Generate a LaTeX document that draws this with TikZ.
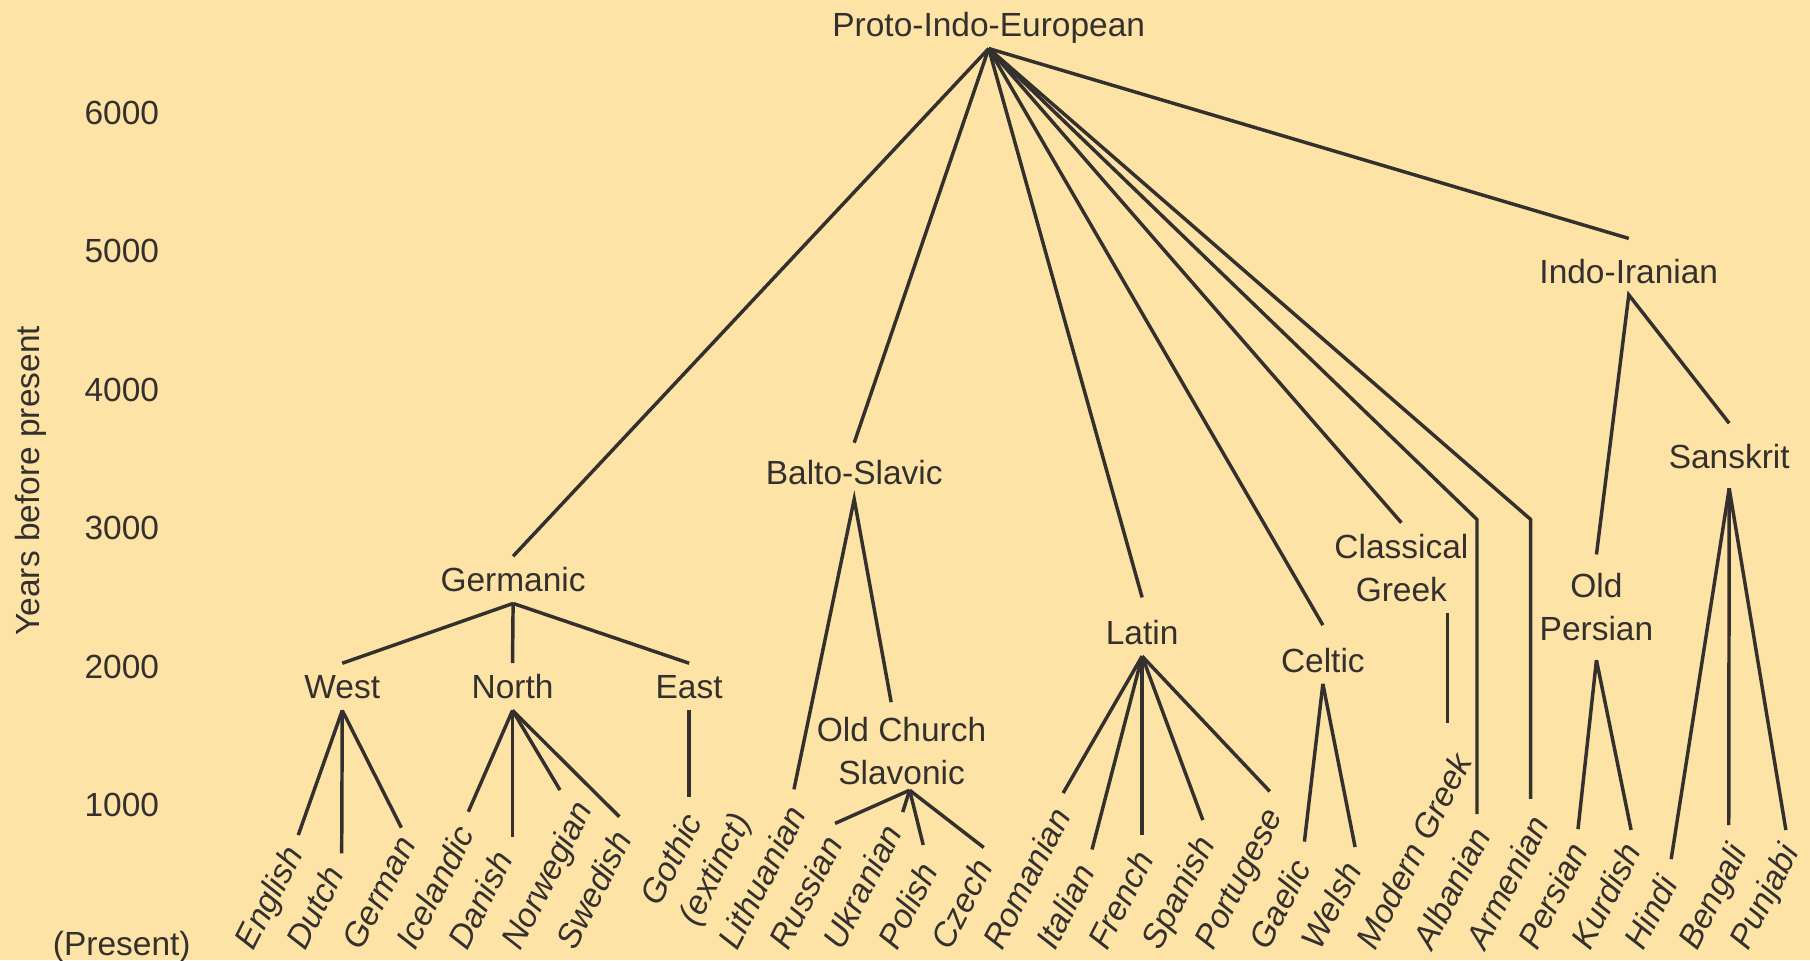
\documentclass[tikz,border=0pt]{standalone}
\usepackage{fontspec}
\setmainfont{Liberation Sans}
\usetikzlibrary{positioning}
\definecolor{parchment}{RGB}{253,227,166}
\definecolor{ink}{RGB}{52,48,45}

\begin{document}
\begin{tikzpicture}[x=1pt, y=-1pt, line width=3pt, ink,
    lang/.style={font=\fontsize{29}{37}\selectfont, text=ink, inner sep=0pt, outer sep=10pt, text height=20.9pt, text depth=0pt},
    langtwo/.style={font=\fontsize{29}{37}\selectfont, text=ink, inner sep=0pt, outer sep=10pt, align=center},
    leaf/.style={font=\fontsize{29}{37}\selectfont\itshape, text=ink, inner sep=0pt, outer sep=0pt, rotate=63, anchor=base west},
    year/.style={font=\fontsize{29}{37}\selectfont, text=ink, inner sep=0pt, outer sep=0pt, text height=20.9pt, text depth=0pt}]
            \fill [parchment] (0,0) rectangle (1568,832);
            \useasboundingbox (0,0) rectangle (1568,832);

            % time axis
            \node [year] (y6000) at (105.5,97) {6000};
            \node [year, below=99.1pt of y6000] (y5000) {5000};
            \node [year, below=99.1pt of y5000] (y4000) {4000};
            \node [year, below=99.1pt of y4000] (y3000) {3000};
            \node [year, below=99.1pt of y3000] (y2000) {2000};
            \node [year, below=99.1pt of y2000] (y1000) {1000};
            \node [year, below=99.1pt of y1000] (present) {(Present)};
            \node [year, rotate=90] (axislabel) at (24,416.5) {Years before present};

            % family nodes
            \node [lang] (pie) at (856.5,21.6) {Proto-Indo-European};
            \node [lang] (germanic) at (444.5,502.3) {Germanic};
            \node [lang] (westgerm) at (296.5,595) {West};
            \node [lang] (northgerm) at (444,595) {North};
            \node [lang] (eastgerm) at (597,595) {East};
            \node [lang] (baltoslavic) at (740,409) {Balto-Slavic};
            \node [langtwo] (ocs) at (781,650.4) {Old Church\\Slavonic};
            \node [lang] (latin) at (989.4,548) {Latin};
            \node [lang] (celtic) at (1146,572) {Celtic};
            \node [langtwo] (clgreek) at (1214,492) {Classical\\Greek};
            \node [lang] (indoiranian) at (1411,235) {Indo-Iranian};
            \node [langtwo] (oldpersian) at (1383,526) {Old\\Persian};
            \node [lang] (sanskrit) at (1498,395.6) {Sanskrit};

            % present-day languages
            \node [leaf] (english) at (220,824.5) {English};
            \node [leaf] (dutch) at (264.7,824.5) {Dutch};
            \node [leaf] (german) at (313.5,824.5) {German};
            \node [leaf] (icelandic) at (360,824.5) {Icelandic};
            \node [leaf] (danish) at (404.6,824.5) {Danish};
            \node [leaf] (norwegian) at (451,824.5) {Norwegian};
            \node [leaf] (swedish) at (498.6,824.5) {Swedish};
            \node [leaf, anchor=center, align=left] (gothic) at (604.6,745.3) {Gothic\\(extinct)};
            \node [leaf] (lithuanian) at (638.6,824.5) {Lithuanian};
            \node [leaf] (russian) at (683.4,824.5) {Russian};
            \node [leaf] (ukranian) at (729.6,824.5) {Ukranian};
            \node [leaf] (polish) at (777.3,824.5) {Polish};
            \node [leaf] (czech) at (823.5,824.5) {Czech};
            \node [leaf] (romanian) at (868.2,824.5) {Romanian};
            \node [leaf] (italian) at (914.4,824.5) {Italian};
            \node [leaf] (french) at (959.2,824.5) {French};
            \node [leaf] (spanish) at (1005.4,824.5) {Spanish};
            \node [leaf] (portugese) at (1051.6,824.5) {Portugese};
            \node [leaf] (gaelic) at (1099.2,824.5) {Gaelic};
            \node [leaf] (welsh) at (1144,824.5) {Welsh};
            \node [leaf] (modgreek) at (1191.6,824.5) {Modern Greek};
            \node [leaf] (albanian) at (1241,824.5) {Albanian};
            \node [leaf] (armenian) at (1286.5,824.5) {Armenian};
            \node [leaf] (persian) at (1331.7,824.5) {Persian};
            \node [leaf] (kurdish) at (1378,824.5) {Kurdish};
            \node [leaf] (hindi) at (1424,824.5) {Hindi};
            \node [leaf] (bengali) at (1470.3,824.5) {Bengali};
            \node [leaf] (punjabi) at (1515,824.5) {Punjabi};

            % where the branches stop above the labels
            \coordinate (english-top) at (258.4,723.4);
            \coordinate (dutch-top) at (296,739.3);
            \coordinate (german-top) at (347.7,717);
            \coordinate (icelandic-top) at (405.7,703.2);
            \coordinate (danish-top) at (444,724.8);
            \coordinate (norwegian-top) at (485.1,684.4);
            \coordinate (swedish-top) at (536.5,707.5);
            \coordinate (gothic-top) at (597,690.2);
            \coordinate (lithuanian-top) at (687.8,683.8);
            \coordinate (russian-top) at (723.4,713.3);
            \coordinate (ukranian-top) at (782,703.5);
            \coordinate (polish-top) at (799.8,732);
            \coordinate (czech-top) at (852.2,734.2);
            \coordinate (romanian-top) at (921,687);
            \coordinate (italian-top) at (946,735.9);
            \coordinate (french-top) at (989.4,723.4);
            \coordinate (spanish-top) at (1042,710.4);
            \coordinate (portugese-top) at (1100,685.6);
            \coordinate (gaelic-top) at (1130,729.1);
            \coordinate (welsh-top) at (1173.9,733.8);
            \coordinate (modgreek-top) at (1254,626.6);
            \coordinate (albanian-bend) at (1279.5,450);
            \coordinate (albanian-top) at (1279.5,705.3);
            \coordinate (armenian-bend) at (1326,450);
            \coordinate (armenian-top) at (1326,692);
            \coordinate (persian-top) at (1367,718.3);
            \coordinate (kurdish-top) at (1413,719);
            \coordinate (hindi-top) at (1447.7,744.3);
            \coordinate (bengali-top) at (1497.6,714.7);
            \coordinate (punjabi-top) at (1547.1,719);

            % branches from the root
            \draw (pie.south) -- (germanic.north);
            \draw (pie.south) -- ([yshift=5pt]baltoslavic.north);
            \draw (pie.south) -- ([yshift=10pt]latin.north);
            \draw (pie.south) -- ([yshift=10pt]celtic.north);
            \draw (pie.south) -- (clgreek.north);
            \draw (pie.south) -- (albanian-bend) -- (albanian-top);
            \draw (pie.south) -- (armenian-bend) -- (armenian-top);
            \draw (pie.south) -- ([yshift=8pt]indoiranian.north);

            % Germanic
            \draw (germanic.south) -- (westgerm.north);
            \draw (germanic.south) -- (northgerm.north);
            \draw (germanic.south) -- (eastgerm.north);
            \draw (westgerm.south) -- (english-top);
            \draw (westgerm.south) -- (dutch-top);
            \draw (westgerm.south) -- (german-top);
            \draw (northgerm.south) -- (icelandic-top);
            \draw (northgerm.south) -- (danish-top);
            \draw (northgerm.south) -- (norwegian-top);
            \draw (northgerm.south) -- (swedish-top);
            \draw (eastgerm.south) -- (gothic-top);

            % Balto-Slavic
            \draw (lithuanian-top) -- ([yshift=-3pt]baltoslavic.south) -- ([xshift=-9pt, yshift=3pt]ocs.north);
            \draw ([xshift=7pt, yshift=5pt]ocs.south) -- (russian-top);
            \draw ([xshift=7pt, yshift=5pt]ocs.south) -- (ukranian-top);
            \draw ([xshift=7pt, yshift=5pt]ocs.south) -- (polish-top);
            \draw ([xshift=7pt, yshift=5pt]ocs.south) -- (czech-top);

            % Latin, Celtic, Greek
            \draw (latin.south) -- (romanian-top);
            \draw (latin.south) -- (italian-top);
            \draw (latin.south) -- (french-top);
            \draw (latin.south) -- (spanish-top);
            \draw (latin.south) -- (portugese-top);
            \draw (celtic.south) -- (gaelic-top);
            \draw (celtic.south) -- (welsh-top);
            \draw ([xshift=40pt]clgreek.south) -- (modgreek-top);

            % Indo-Iranian
            \draw ([yshift=6.5pt]oldpersian.north) -- (indoiranian.south) -- ([yshift=8.5pt]sanskrit.north);
            \draw ([yshift=-6.7pt]oldpersian.south) -- (persian-top);
            \draw ([yshift=-6.7pt]oldpersian.south) -- (kurdish-top);
            \draw ([yshift=-7pt]sanskrit.south) -- (hindi-top);
            \draw ([yshift=-7pt]sanskrit.south) -- (bengali-top);
            \draw ([yshift=-7pt]sanskrit.south) -- (punjabi-top);
        \end{tikzpicture}
\end{document}
